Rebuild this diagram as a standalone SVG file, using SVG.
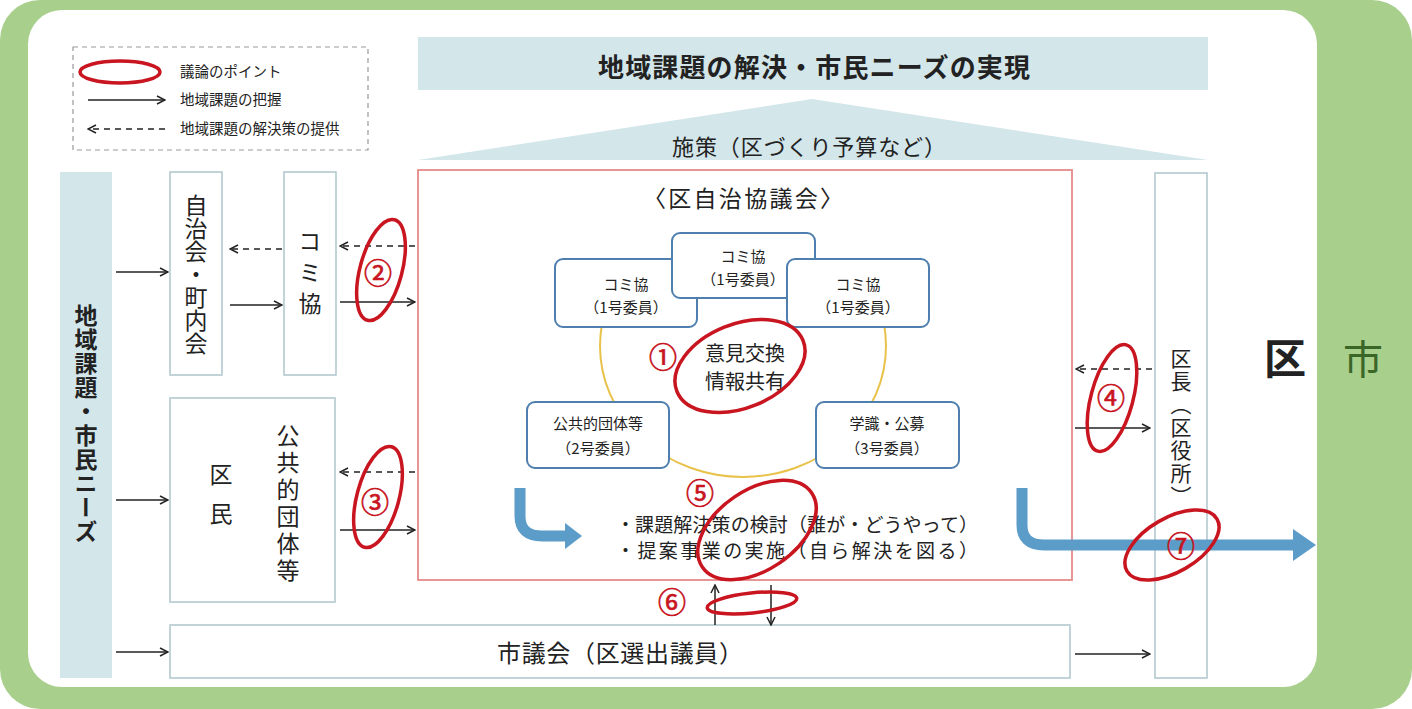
<svg xmlns="http://www.w3.org/2000/svg" width="1412" height="709" viewBox="0 0 1412 709">
<defs>
<style>
text{font-family:"Noto Sans CJK JP","Noto Sans",sans-serif;fill:#222}
.v{writing-mode:vertical-rl;text-anchor:middle}
.box{fill:#fff;stroke:#aec6cc;stroke-width:1.5}
.blue{fill:#d3e6ea}
.node{fill:#fff;stroke:#4f7fae;stroke-width:2}
.red{fill:none;stroke:#c8151f;stroke-width:3.5}
.num{fill:#c8151f;font-size:28px;text-anchor:middle;stroke:#c8151f;stroke-width:0.7}
.ln{stroke:#222;stroke-width:1.5;fill:none}
.dash{stroke:#222;stroke-width:1.5;fill:none;stroke-dasharray:6 5}
.big{stroke:#5b9cc9;stroke-width:11;fill:none}
.nt{font-size:15px;text-anchor:middle}
.lg{font-size:14.5px}
</style>
<marker id="ah" viewBox="0 0 10 10" refX="9" refY="5" markerWidth="10" markerHeight="10" markerUnits="userSpaceOnUse" orient="auto">
<path d="M1,1 L9,5 L1,9" fill="none" stroke="#222" stroke-width="1.5"/>
</marker>
<clipPath id="lower"><rect x="580" y="300" width="330" height="200"/></clipPath>
</defs>
<!-- background -->
<rect x="0" y="0" width="1412" height="709" rx="40" fill="#a8cf8c"/>
<rect x="28" y="10" width="1289" height="677" rx="34" fill="#fff"/>
<text x="1285" y="374" font-size="42" font-weight="bold" text-anchor="middle" fill="#111">区</text>
<text x="1363" y="374" font-size="40" text-anchor="middle" style="fill:#3a6628">市</text>

<!-- legend -->
<g id="legend">
<rect x="73" y="47" width="295" height="103" fill="none" stroke="#999" stroke-width="1.2" stroke-dasharray="5 4"/>
<ellipse cx="120" cy="72" rx="40" ry="11" class="red"/>
<line x1="88" y1="100" x2="165" y2="100" class="ln" marker-end="url(#ah)"/>
<line x1="165" y1="129" x2="88" y2="129" class="dash" marker-end="url(#ah)"/>
<text x="180" y="77" class="lg">議論のポイント</text>
<text x="180" y="105" class="lg">地域課題の把握</text>
<text x="180" y="134" class="lg">地域課題の解決策の提供</text>
</g>

<!-- top banner and roof -->
<g id="goal">
<rect x="418" y="37" width="790" height="53" class="blue"/>
<text x="814" y="77" font-size="26" font-weight="bold" text-anchor="middle" textLength="432" lengthAdjust="spacing">地域課題の解決・市民ニーズの実現</text>
</g>
<g id="policy">
<polygon points="418,160 812,99 1208,160" class="blue"/>
<text x="809" y="155" font-size="22" text-anchor="middle" textLength="274" lengthAdjust="spacing">施策（区づくり予算など）</text>
</g>

<!-- left bar -->
<g id="needs">
<rect x="60" y="172" width="52" height="506" class="blue"/>
<text x="86" y="424" class="v" font-size="23" font-weight="bold" letter-spacing="1">地域課題・市民ニーズ</text>
</g>

<g id="jichikai">
<rect x="170" y="172" width="52" height="203" class="box"/>
<text x="196" y="274" class="v" font-size="23">自治会・町内会</text>
</g>
<g id="komikyo">
<rect x="284" y="172" width="52" height="203" class="box"/>
<text x="310" y="276" class="v" font-size="23" letter-spacing="8">コミ協</text>
</g>
<g id="kumin">
<rect x="170" y="398" width="165" height="204" class="box"/>
<text x="221" y="502" class="v" font-size="23" letter-spacing="16">区民</text>
<text x="288" y="505" class="v" font-size="23" letter-spacing="4">公共的団体等</text>
</g>
<g id="shigikai">
<rect x="170" y="625" width="900" height="53" class="box"/>
<text x="620" y="662" font-size="24" text-anchor="middle" textLength="246" lengthAdjust="spacing">市議会（区選出議員）</text>
</g>
<g id="kucho">
<rect x="1155" y="173" width="52" height="505" class="box"/>
<text x="1181" y="428" class="v" font-size="21" letter-spacing="2">区長（区役所）</text>
</g>

<!-- council -->
<g id="council">
<rect x="418" y="170" width="654" height="410" fill="#fff" stroke="#e58a8a" stroke-width="1.8"/>
<text x="743" y="207" font-size="23" text-anchor="middle" textLength="200" lengthAdjust="spacing">〈区自治協議会〉</text>
<ellipse cx="743" cy="346" rx="143" ry="131" fill="none" stroke="#e8c24a" stroke-width="2" clip-path="url(#lower)"/>
</g>
<g id="n-left">
<rect x="555" y="259" width="142" height="68" rx="8" class="node"/>
<text x="626" y="290" class="nt">コミ協</text>
<text x="626" y="313" class="nt">（1号委員）</text>
</g>
<g id="n-top">
<rect x="672" y="233" width="143" height="65" rx="8" class="node"/>
<text x="743" y="262" class="nt">コミ協</text>
<text x="743" y="285" class="nt">（1号委員）</text>
</g>
<g id="n-right">
<rect x="787" y="259" width="142" height="68" rx="8" class="node"/>
<text x="858" y="290" class="nt">コミ協</text>
<text x="858" y="313" class="nt">（1号委員）</text>
</g>
<g id="n-public">
<rect x="527" y="402" width="142" height="66" rx="8" class="node"/>
<text x="598" y="429" class="nt">公共的団体等</text>
<text x="598" y="454" class="nt">（2号委員）</text>
</g>
<g id="n-gakushiki">
<rect x="816" y="402" width="143" height="66" rx="8" class="node"/>
<text x="887" y="429" class="nt">学識・公募</text>
<text x="887" y="454" class="nt">（3号委員）</text>
</g>
<g id="center">
<text x="745" y="361" font-size="20" text-anchor="middle">意見交換</text>
<text x="745" y="389" font-size="20" text-anchor="middle">情報共有</text>
</g>
<g id="tasks">
<text x="616" y="532" font-size="19" textLength="362" lengthAdjust="spacing">・課題解決策の検討（誰が・どうやって）</text>
<text x="616" y="558" font-size="19" textLength="362" lengthAdjust="spacing">・提案事業の実施（自ら解決を図る）</text>
</g>

<!-- connectors -->
<g id="connectors">
<line x1="116" y1="272" x2="168" y2="272" class="ln" marker-end="url(#ah)"/>
<line x1="116" y1="500" x2="168" y2="500" class="ln" marker-end="url(#ah)"/>
<line x1="116" y1="652" x2="168" y2="652" class="ln" marker-end="url(#ah)"/>
<line x1="230" y1="305" x2="282" y2="305" class="ln" marker-end="url(#ah)"/>
<line x1="282" y1="249" x2="230" y2="249" class="dash" marker-end="url(#ah)"/>
<line x1="415" y1="246" x2="340" y2="246" class="dash" marker-end="url(#ah)"/>
<line x1="340" y1="302" x2="415" y2="302" class="ln" marker-end="url(#ah)"/>
<line x1="415" y1="472" x2="340" y2="472" class="dash" marker-end="url(#ah)"/>
<line x1="340" y1="530" x2="415" y2="530" class="ln" marker-end="url(#ah)"/>
<line x1="1152" y1="369" x2="1076" y2="369" class="dash" marker-end="url(#ah)"/>
<line x1="1075" y1="428" x2="1150" y2="428" class="ln" marker-end="url(#ah)"/>
<line x1="1075" y1="654" x2="1150" y2="654" class="ln" marker-end="url(#ah)"/>
<line x1="715" y1="625" x2="715" y2="585" class="ln" marker-end="url(#ah)"/>
<line x1="771" y1="585" x2="771" y2="625" class="ln" marker-end="url(#ah)"/>
<path d="M520,488 L520,516 Q520,536 542,536 L566,536" class="big"/>
<polygon points="565,523 582,536 565,549" fill="#5b9cc9"/>
<path d="M1022,488 L1022,525 Q1022,545 1044,545 L1295,545" class="big"/>
<polygon points="1293,529 1316,545 1293,561" fill="#5b9cc9"/>
</g>

<!-- discussion points -->
<g id="points">
<ellipse cx="740" cy="366" rx="68" ry="42" transform="rotate(-22 740 366)" class="red"/>
<text x="663" y="368" class="num">①</text>
<ellipse cx="381" cy="270" rx="21" ry="52" transform="rotate(15 381 270)" class="red"/>
<text x="378" y="284" class="num">②</text>
<ellipse cx="378" cy="497" rx="21" ry="52" transform="rotate(15 378 497)" class="red"/>
<text x="375" y="513" class="num">③</text>
<ellipse cx="1112" cy="398" rx="21" ry="55" transform="rotate(15 1112 398)" class="red"/>
<text x="1111" y="409" class="num">④</text>
<ellipse cx="757" cy="530" rx="66" ry="40" transform="rotate(-34 757 530)" class="red"/>
<text x="700" y="504" class="num">⑤</text>
<ellipse cx="752" cy="603" rx="45" ry="10" transform="rotate(-6 752 603)" class="red"/>
<text x="672" y="613" class="num">⑥</text>
<ellipse cx="1172" cy="545" rx="52" ry="27" transform="rotate(-30 1172 545)" class="red"/>
<text x="1181" y="557" class="num">⑦</text>
</g>
</svg>
